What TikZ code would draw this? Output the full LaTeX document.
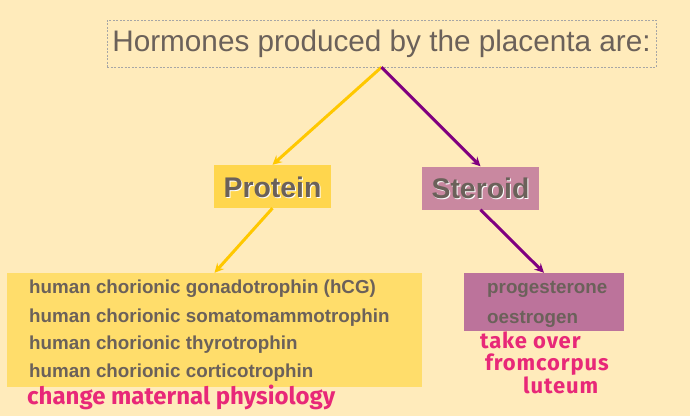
\documentclass[tikz,border=0pt]{standalone}
\usepackage{fontspec}
\setmainfont{Liberation Sans}
\newfontfamily\handfont{Fira Sans}
\usepackage{tikz}
\usetikzlibrary{arrows,positioning}

\definecolor{bgcol}{RGB}{255,235,187}
\definecolor{txtgray}{RGB}{107,97,90}
\definecolor{protfill}{RGB}{255,214,77}
\definecolor{sterfill}{RGB}{201,136,160}
\definecolor{listfill}{RGB}{255,221,107}
\definecolor{hormfill}{RGB}{188,115,155}
\definecolor{yellowline}{RGB}{255,200,0}
\definecolor{purpleline}{RGB}{128,0,128}
\definecolor{inkpink}{RGB}{232,40,120}

\begin{document}
\begin{tikzpicture}[
  x=1pt, y=-1pt,
  catbox/.style={rectangle, inner sep=0pt, minimum width=117pt, minimum height=43pt},
  cattext/.style={font=\fontsize{28.4}{32}\selectfont\bfseries, text=txtgray},
  itemtext/.style={anchor=base west, inner sep=0pt, font=\fontsize{18.8}{22}\selectfont\bfseries, text=txtgray},
  inktext/.style={anchor=base west, inner sep=0pt, font=\handfont\fontsize{24}{26}\selectfont\bfseries, text=inkpink},
  sideink/.style={inktext, font=\handfont\fontsize{22}{24}\selectfont\bfseries\addfontfeatures{LetterSpace=4}},
  yarrow/.style={->, >=stealth, line width=3pt, yellowline},
  parrow/.style={->, >=stealth, line width=3pt, purpleline}
]
% Background and bounding box
\fill[bgcol] (0,0) rectangle (690,416);
\useasboundingbox (0,0) rectangle (690,416);

% Title
\node[draw=gray!70, dash pattern=on 2pt off 1.5pt, rectangle, inner sep=0pt,
      minimum width=549pt, minimum height=47pt, text=txtgray,
      font=\fontsize{29.7}{32}\selectfont] (title) at (381.5,43.5) {Hormones produced by the placenta are:};

% Categories
\node[catbox, fill=protfill] (protein) at (272.5,186.5) {};
\node[cattext, white] (proteinshadow) at (273.5,188) {Protein};
\node[cattext] (proteinlabel) at (272.5,187) {Protein};

\node[catbox, fill=sterfill] (steroid) at (480.5,188) {};
\node[cattext, white] (steroidshadow) at (481.5,189.5) {Steroid};
\node[cattext] (steroidlabel) at (480.5,188.5) {Steroid};

% Hormone lists
\node[rectangle, inner sep=0pt, fill=listfill, minimum width=415pt, minimum height=114pt] (protlist) at (214.5,330) {};
\node[itemtext] (hcg) at (29,293) {human chorionic gonadotrophin (hCG)};
\node[itemtext] (hcs) at (29,322) {human chorionic somatomammotrophin};
\node[itemtext] (hct) at (29,349.5) {human chorionic thyrotrophin};
\node[itemtext] (hcc) at (29,377) {human chorionic corticotrophin};

\node[rectangle, inner sep=0pt, fill=hormfill, minimum width=160pt, minimum height=58pt] (sterlist) at (544,302) {};
\node[itemtext] (prog) at (487,293) {progesterone};
\node[itemtext] (oest) at (487,323) {oestrogen};

% Arrows
\draw[yarrow] (title.south) -- (protein.north);
\draw[parrow] (title.south) -- (steroid.north);
\draw[yarrow] (protein.south) -- (protlist.north);
\draw[parrow] (steroid.south) -- (sterlist.north);

% Handwritten notes
\node[inktext] (note1) at (27,404) {change maternal physiology};
\node[sideink] (note2) at (480,348) {take over};
\node[sideink] (note3) at (485,370) {fromcorpus};
\node[sideink] (note4) at (523,393) {luteum};
\end{tikzpicture}
\end{document}
